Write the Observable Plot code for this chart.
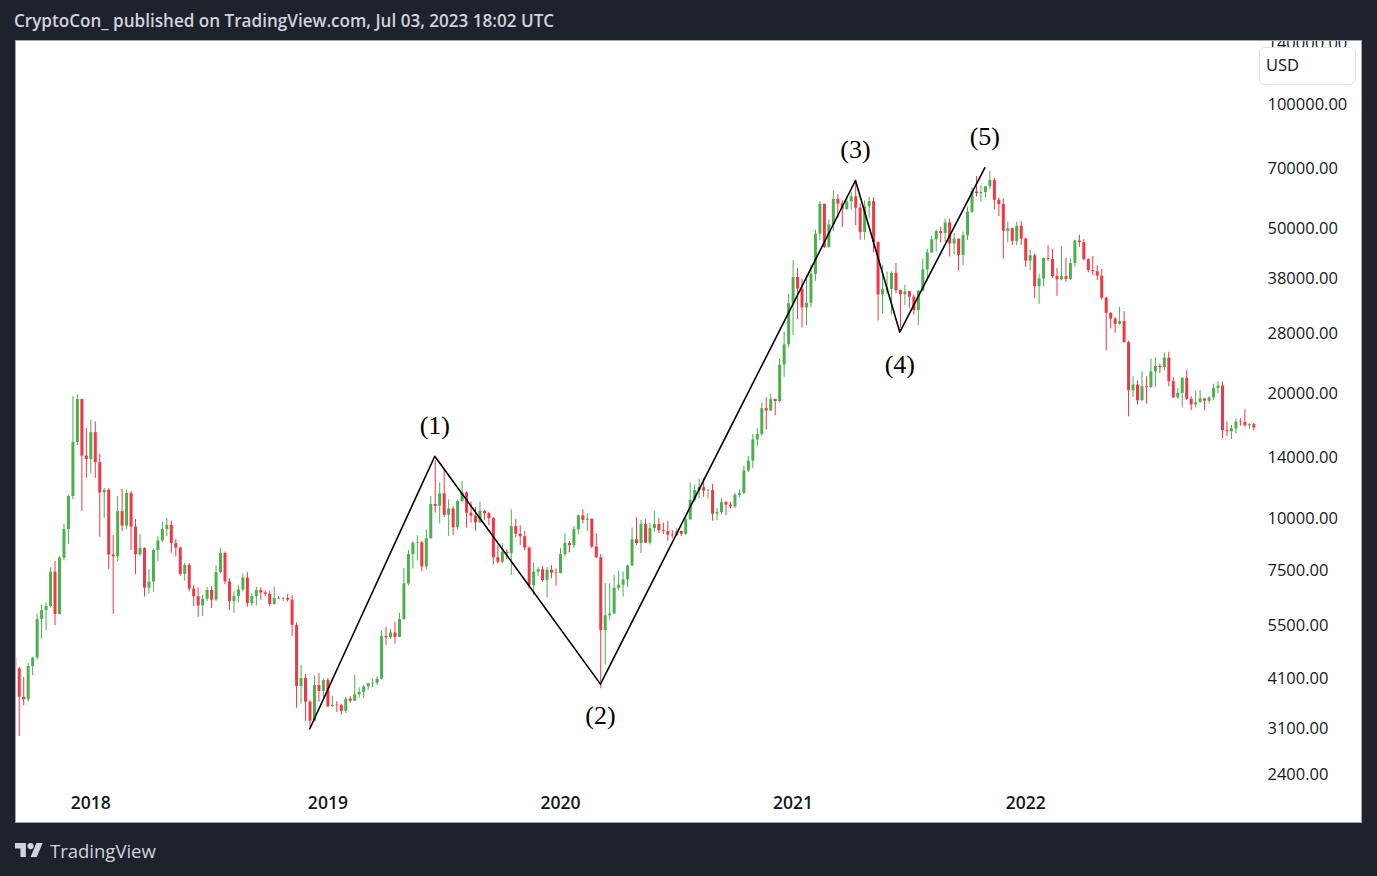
<!DOCTYPE html>
<html>
<head>
<meta charset="utf-8">
<script src="https://cdn.jsdelivr.net/npm/d3@7"></script>
<script src="https://cdn.jsdelivr.net/npm/@observablehq/plot@0.6"></script>
<style>
  html, body { margin: 0; padding: 0; }
  body { width: 1377px; height: 876px; background: #1e222d; position: relative; overflow: hidden; font-family: "Open Sans", sans-serif; }
  #hdr { position: absolute; left: 14px; top: 11px; line-height: 20px; color: #d1d4dc; font-size: 17.1px; font-weight: 600; white-space: nowrap; }
  #pane { position: absolute; left: 15px; top: 40px; width: 1347px; height: 783px; box-sizing: border-box; border: 1px solid #a3a6af; background: #fff; overflow: hidden; }
  #usd { position: absolute; left: 1243px; top: 6px; width: 97px; height: 38px; box-sizing: border-box; border: 1px solid #e0e3eb; border-radius: 6px; background: #fff; color: #131722; font-size: 16.5px; line-height: 34px; padding-left: 6px; }
  #foot { position: absolute; left: 15px; top: 838px; height: 24px; display: flex; align-items: center; color: #d1d4dc; }
  #foot span { font-size: 18.5px; font-weight: 500; margin-left: 7px; }
</style>
</head>
<body>
<div id="hdr">CryptoCon_ published on TradingView.com, Jul 03, 2023 18:02 UTC</div>
<div id="pane"><div id="chart"></div><div id="usd">USD</div></div>
<div id="foot">
  <svg width="28" height="14" viewBox="0 4 36 18"><path fill="#d1d4dc" d="M14 22H7V11H0V4h14v18zM28 22h-8l7.5-18h8L28 22z"/><circle fill="#d1d4dc" cx="20" cy="8" r="4"/></svg>
  <span>TradingView</span>
</div>
<script>
// Weekly candles [open, high, low, close], first week starts 2017-09-04
const firstWeek = "2017-09-04";
const candles2017 = [
  [4600,4700,4100,4330],[4330,4370,2975,3700],[3700,4130,3530,3650],[3650,4470,3600,4390],
  [4390,4620,4170,4600],[4600,5860,4550,5700],[5700,6170,5110,5990],[5990,6260,5360,6130],
  [6130,7600,6080,7420],[7420,7870,5510,5860],[5860,8100,5850,8020],[8020,9700,7900,9400],
  [9400,11400,8650,11300],[11300,19700,11100,15260],[15260,19890,15000,19390],[19390,19400,10400,14150],
  [14150,16500,12500,13880]
];
const candles2018 = [
  [13880,17270,12800,16120],[16120,17100,12500,13640],[13640,14280,9000,11530],[11530,11830,10000,11700],
  [11700,11800,7530,8160],[8160,9100,5870,8080],[8080,11300,7850,10390],[10390,11750,9300,9590],
  [9590,11700,9400,11490],[11490,11630,8370,9530],[9530,9950,7320,8170],[8170,9150,8090,8460],
  [8460,8500,6460,6790],[6790,7530,6580,7020],[7020,8430,6640,8370],[8370,9030,7850,8830],
  [8830,9800,8730,9400],[9400,10000,9050,9620],[9620,9850,8240,8700],[8700,8900,8070,8480],
  [8480,8530,7250,7330],[7330,7800,7060,7710],[7710,7780,6650,6750],[6750,6880,6130,6470],
  [6470,6800,5770,6150],[6150,6530,5800,6380],[6380,6800,6300,6700],[6700,6840,6060,6350],
  [6350,7700,6300,7400],[7400,8460,7350,8230],[8230,8290,6920,7030],[7030,7150,5990,6300],
  [6300,6660,5900,6480],[6480,6880,6250,6720],[6720,7340,6650,7180],[7180,7400,6100,6230],
  [6230,6590,6130,6480],[6480,6820,6150,6700],[6700,6800,6350,6610],[6610,6670,6480,6560],
  [6560,6680,6120,6200],[6200,6840,6180,6410],[6410,6480,6370,6390],[6390,6450,6300,6410],
  [6410,6550,6280,6350],[6350,6520,5190,5520],[5520,5600,3480,3930],[3930,4420,3560,4110],
  [4110,4200,3236,3600],[3600,3630,3122,3240],[3240,4170,3220,3950],[3950,4220,3600,3820],
  [3820,4100,3660,4060]
];
const candles2019 = [
  [4060,4110,3490,3510],[3510,3720,3500,3540],[3540,3610,3400,3530],[3530,3560,3350,3420],
  [3420,3700,3380,3660],[3660,3710,3580,3620],[3620,4180,3620,3750],[3750,3900,3680,3800],
  [3800,3950,3670,3920],[3920,4000,3850,3990],[3990,4090,3900,4000],[4000,4150,3950,4090],
  [4090,5350,4080,5190],[5190,5460,4930,5150],[5150,5400,5110,5290],[5290,5620,4970,5160],
  [5160,5900,5150,5700],[5700,7570,5680,6950],[6950,8380,6870,8180],[8180,8800,7550,8710],
  [8710,9080,7900,8740],[8740,8800,7440,7640],[7640,9390,7520,8930],[8930,11300,8930,10810],
  [10810,13800,10300,10700],[10700,12180,9700,11470],[11470,13150,10050,10180],[10180,11100,9050,10550],
  [10550,10680,9100,9500],[9500,11080,9380,10990],[10990,12290,10950,11530],[11530,11600,9480,10300],
  [10300,10950,9740,10130],[10130,10640,9320,9760],[9760,10950,9720,10400],[10400,10470,9900,10270],
  [10270,10350,9600,9990],[9990,10060,7730,8040],[8040,8600,7760,7840],[7840,8700,7780,8290],
  [8290,8400,7950,8230],[8230,10500,7290,9560],[9560,9950,8970,9160],[9160,9600,8600,9040],
  [9040,9300,8360,8480],[8480,8530,6760,6880],[6880,7800,6520,7420],[7420,7620,7250,7520],
  [7520,7650,7020,7080],[7080,7620,6420,7500],[7500,7700,7150,7380],[7380,7550,6870,7360]
];
const candles2020 = [
  [7360,8460,7350,8180],[8180,9190,8080,8700],[8700,8800,8260,8600],[8600,9570,8470,9400],
  [9400,10200,9150,10150],[10150,10500,9700,9900],[9900,10250,9300,9960],[9960,9990,8450,8530],
  [8530,9190,8000,8040],[8040,8180,3880,5360],[5360,6960,4430,5820],[5820,6960,5680,5880],
  [5880,7290,5860,6780],[6780,7470,6700,6900],[6900,7430,6460,7110],[7110,7720,6810,7680],
  [7680,9490,7650,8880],[8880,10040,8600,8700],[8700,9900,8220,9670],[9670,9930,8700,8720],
  [8720,9740,8630,9450],[9450,10400,9270,9670],[9670,9990,9200,9340],[9340,9750,9150,9300],
  [9300,9840,8800,9120],[9120,9350,8950,9080],[9080,9450,9050,9300],[9300,9330,9050,9160],
  [9160,10100,9100,9930],[9930,12180,9900,11050],[11050,12050,10950,11680],[11680,12480,11150,11870],
  [11870,12480,11250,11650],[11650,11750,11150,11680],[11680,12090,9850,10250],[10250,10580,9880,10330],
  [10330,11180,10200,10920],[10920,10990,10140,10770],[10770,10950,10550,10670],[10670,11500,10550,11380],
  [11380,11730,11200,11500],[11500,13370,11400,13030],[13030,14120,12900,13760],[13760,15960,13200,15480],
  [15480,16500,14900,15960],[15960,19000,15800,18420],[18420,19580,16340,18180],[18180,19960,18100,19380],
  [19380,19420,17690,19170],[19170,24250,19000,23470],[23470,28200,21940,26270],[26270,34800,25850,33000]
];
const candles2021 = [
  [33000,41950,27700,38200],[38200,40100,30200,35800],[35800,37850,28850,32260],[32260,38550,29250,33100],
  [33100,40950,32300,38900],[38900,49700,37400,48600],[48600,58350,46950,57400],[57400,57500,44900,45150],
  [45150,52600,44950,51200],[51200,61800,49300,59000],[59000,60600,53000,57500],[57500,58500,50400,55800],
  [55800,60000,55500,58200],[58200,61200,55500,59800],[59800,64900,51000,56200],[56200,57500,47000,49100],
  [49100,58450,47050,56600],[56600,59600,53000,58250],[58250,59600,43800,46400],[46400,46600,30000,34700],
  [34700,40900,31200,35700],[35700,39400,34800,35800],[35800,39400,31000,39100],[39100,41300,34900,35500],
  [35500,35700,28800,34700],[34700,36600,32700,35300],[35300,35400,32100,34250],[34250,34700,31000,31800],
  [31800,35500,29300,35400],[35400,42300,35300,39850],[39850,44700,37500,43800],[43800,48100,43700,47100],
  [47100,49800,44000,49300],[49300,50500,46300,48800],[48800,52900,46500,51750],[51750,52900,42800,46050],
  [46050,48800,43300,47250],[47250,47350,39600,43200],[43200,49200,40800,48200],[48200,56550,46900,54950],
  [54950,62900,54500,61500],[61500,67000,59800,60900],[60900,63700,58000,61300],[61300,63400,59400,63300],
  [63300,69000,62300,65500],[65500,66300,55600,58700],[58700,59500,53600,57300],[57300,59100,42300,49400],
  [49400,52000,46300,50100],[50100,50300,45600,46700],[46700,51900,45600,50800],[50800,52100,45700,47300]
];
const candles2022 = [
  [47300,47600,40400,41850],[41850,44500,39700,43100],[43100,43500,34000,36300],[36300,38900,32900,37900],
  [37900,42600,36300,42400],[42400,45600,41700,42200],[42200,44700,38000,38400],[38400,40200,34400,37700],
  [37700,45400,37500,38400],[38400,42500,37200,37800],[37800,42400,37600,41300],[41300,47000,40500,46800],
  [46800,48300,45200,46400],[46400,47200,41900,42200],[42200,42400,39200,39700],[39700,42900,38600,39450],
  [39450,40800,37600,38500],[38500,40000,33700,34050],[34050,34250,25400,31300],[31300,31400,28700,30300],
  [30300,30600,28000,29450],[29450,32400,29300,29900],[29900,31600,26500,26600],[26600,26800,17600,20350],
  [20350,22000,19600,21000],[21000,21500,18800,19250],[19250,22600,19200,20800],[20800,22000,18900,20700],
  [20700,24300,20650,22600],[22600,24500,20700,23300],[23300,23600,22400,23150],[23150,25100,22700,24400],
  [24400,25200,20800,21400],[21400,21850,19500,19550],[19550,20600,19400,20050],[20050,21900,18500,21800],
  [21800,22800,19300,19400],[19400,19700,18200,18800],[18800,20300,18500,19050],[19050,20400,19000,19450],
  [19450,19500,18200,19200],[19200,19700,18900,19550],[19550,21100,19300,20600],[20600,21400,20000,20900],
  [20900,21400,15600,16300],[16300,17100,15800,16200],[16200,16750,15500,16450],[16450,17400,16000,17100],
  [17100,17400,16700,17050],[17050,18300,16600,16750],[16750,16950,16400,16850],[16850,16950,16300,16550]
];

// Price scale ticks and year ticks
const priceTicks = [140000, 100000, 70000, 50000, 38000, 28000, 20000, 14000, 10000, 7500, 5500, 4100, 3100, 2400];
const yearTicks = ["2018-01-01", "2019-01-07", "2020-01-06", "2021-01-04", "2022-01-03"];
const yearLabels = ["2018", "2019", "2020", "2021", "2022"];

// Elliott wave drawing (hand-drawn points)
const waveDates = ["2018-12-09T17:00Z", "2019-06-23T07:00Z", "2020-03-08T14:00Z", "2021-04-11T17:00Z", "2021-06-20T00:00Z", "2021-10-31T00:00Z"];
const wavePrices = [3105, 14140, 3980, 65530, 28180, 70330];
const waveLabels = ["", "(1)", "(2)", "(3)", "(4)", "(5)"];
const wavePeak = [false, true, false, true, false, true];

const GREEN = "#4caf50", RED = "#f23645";

const start = new Date(firstWeek + "T00:00Z");
const weeks = [...candles2017, ...candles2018, ...candles2019, ...candles2020, ...candles2021, ...candles2022]
  .map((c, i) => ({date: d3.utcDay.offset(start, 7 * i), open: c[0], high: c[1], low: c[2], close: c[3]}));
const wave = waveDates.map((d, i) => ({date: new Date(d), price: wavePrices[i], label: waveLabels[i], peak: wavePeak[i]}));
const candleColor = d => d.close >= d.open ? GREEN : RED;
const years = yearTicks.map((d, i) => ({date: new Date(d + "T00:00Z"), label: yearLabels[i]}));
const fmt = d3.format(".2f");

const chart = Plot.plot({
  width: 1345,
  height: 781,
  marginLeft: 0,
  marginRight: 105,
  marginTop: 0,
  marginBottom: 37,
  style: {background: "#fff", color: "#131722", fontFamily: "'Open Sans', sans-serif", overflow: "hidden"},
  x: {type: "utc", domain: [new Date("2017-09-06T17:00Z"), new Date("2022-12-30T05:00Z")], axis: null},
  y: {type: "log", domain: [2265, 141960], axis: null},
  marks: [
    // time axis labels
    Plot.text(years, {x: "date", text: "label", frameAnchor: "bottom", dy: 23, fontSize: 17.5, fontWeight: 600, fill: "#131722"}),
    // price axis labels
    Plot.text(priceTicks, {y: d => d, text: d => fmt(d), frameAnchor: "right", textAnchor: "start", dx: 11, fontSize: 16.5, fill: "#131722"}),
    Plot.ruleX(weeks, {x: "date", y1: "low", y2: "high", stroke: candleColor, strokeWidth: 1, clip: true}),
    Plot.ruleX(weeks, {x: "date", y1: "open", y2: "close", stroke: candleColor, strokeWidth: 3, clip: true}),
    Plot.line(wave, {x: "date", y: "price", stroke: "#000", strokeWidth: 1.6}),
    Plot.text(wave, {filter: d => d.peak, x: "date", y: "price", text: "label", dy: -31, fontSize: 26, fontFamily: "'Liberation Serif', serif", fill: "#000"}),
    Plot.text(wave, {filter: d => !d.peak && d.label, x: "date", y: "price", text: "label", dy: 32, fontSize: 26, fontFamily: "'Liberation Serif', serif", fill: "#000"})
  ]
});
document.getElementById("chart").append(chart);
</script>
</body>
</html>
